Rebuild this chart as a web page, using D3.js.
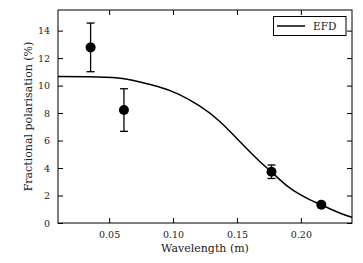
<!DOCTYPE html>
<html><head><meta charset="utf-8">
<script src="https://cdn.jsdelivr.net/npm/d3@7"></script>
<style>body{margin:0;background:#fff}svg{display:block}
text{font-family:"DejaVu Serif",serif;fill:#222}</style>
</head><body>
<script>
const wavelength = [0.0355, 0.0616, 0.177, 0.216];
const polarisation = [12.78, 8.22, 3.73, 1.33];
const polError = [1.77, 1.55, 0.49, 0.15];
const efdWavelength = [0.01, 0.0334, 0.0569, 0.0725, 0.088, 0.1038, 0.121, 0.1366, 0.1522, 0.1678, 0.177, 0.1913, 0.2069, 0.2165, 0.2303, 0.24];
const efdPolarisation = [10.66, 10.64, 10.55, 10.3, 9.94, 9.4, 8.5, 7.39, 5.93, 4.48, 3.72, 2.55, 1.7, 1.3, 0.73, 0.42];
const xTicks = [0.05, 0.10, 0.15, 0.20];
const yTicks = [0, 2, 4, 6, 8, 10, 12, 14];
const legendLabel = "EFD";

const W = 363, H = 263;
const m = {l: 58, r: 11, t: 10, b: 40};
const svg = d3.select("body").append("svg").attr("width", W).attr("height", H);
const x = d3.scaleLinear().domain([0.01, 0.24]).range([m.l, W - m.r]);
const y = d3.scaleLinear().domain([0, 15.5]).range([H - m.b, m.t]);

function styleAxis(g, labels) {
  g.attr("font-family", null).attr("font-size", null);
  g.select(".domain").remove();
  g.selectAll(".tick line").attr("stroke", "#000").attr("stroke-width", 1);
  g.selectAll(".tick text").attr("fill", null).style("font-size", "9.5px");
  if (!labels) g.selectAll(".tick text").remove();
}
const fmtX = d3.format(".2f");
svg.append("g").attr("transform", `translate(0,${H - m.b})`)
  .call(d3.axisBottom(x).tickValues(xTicks).tickSize(-5).tickPadding(8).tickFormat(fmtX))
  .call(g => styleAxis(g, true));
svg.append("g").attr("transform", `translate(0,${m.t})`)
  .call(d3.axisTop(x).tickValues(xTicks).tickSize(-5))
  .call(g => styleAxis(g, false));
svg.append("g").attr("transform", `translate(${m.l},0)`)
  .call(d3.axisLeft(y).tickValues(yTicks).tickSize(-5).tickPadding(8))
  .call(g => styleAxis(g, true));
svg.append("g").attr("transform", `translate(${W - m.r},0)`)
  .call(d3.axisRight(y).tickValues(yTicks).tickSize(-5))
  .call(g => styleAxis(g, false));

svg.append("rect").attr("x", m.l).attr("y", m.t)
  .attr("width", W - m.l - m.r).attr("height", H - m.t - m.b)
  .attr("fill", "none").attr("stroke", "#000").attr("stroke-width", 1);

// model curve
const pts = efdWavelength.map((w, i) => [w, efdPolarisation[i]]);
svg.append("path").datum(pts)
  .attr("fill", "none").attr("stroke", "#000").attr("stroke-width", 1.5)
  .attr("d", d3.line().x(d => x(d[0])).y(d => y(d[1])).curve(d3.curveNatural));

// error bars + points
const data = wavelength.map((w, i) => ({w, p: polarisation[i], e: polError[i]}));
const eb = svg.append("g").attr("stroke", "#000").attr("stroke-width", 1.3);
data.forEach(d => {
  eb.append("line").attr("x1", x(d.w)).attr("x2", x(d.w)).attr("y1", y(d.p - d.e)).attr("y2", y(d.p + d.e));
  [d.p - d.e, d.p + d.e].forEach(v => eb.append("line")
    .attr("x1", x(d.w) - 4).attr("x2", x(d.w) + 4).attr("y1", y(v)).attr("y2", y(v)));
});
svg.append("g").selectAll("circle").data(data).join("circle")
  .attr("cx", d => x(d.w)).attr("cy", d => y(d.p)).attr("r", 5).attr("fill", "#000");

// labels
svg.append("text").attr("x", (m.l + W - m.r) / 2).attr("y", 252)
  .attr("text-anchor", "middle").style("font-size", "11px")
  .text("Wavelength (m)");
svg.append("text").attr("transform", `translate(28,${(m.t + H - m.b) / 2}) rotate(-90)`)
  .attr("text-anchor", "middle").attr("dominant-baseline", "central").style("font-size", "11px")
  .text("Fractional polarisation (%)");

// legend
const lg = svg.append("g");
lg.append("rect").attr("x", 273.5).attr("y", 16.5).attr("width", 72.5).attr("height", 19)
  .attr("fill", "#fff").attr("stroke", "#000").attr("stroke-width", 1);
lg.append("line").attr("x1", 277).attr("x2", 305).attr("y1", 26).attr("y2", 26)
  .attr("stroke", "#000").attr("stroke-width", 1.5);
lg.append("text").attr("x", 313).attr("y", 26).attr("dominant-baseline", "central")
  .style("font-size", "10.5px").text(legendLabel);
</script>
</body></html>
